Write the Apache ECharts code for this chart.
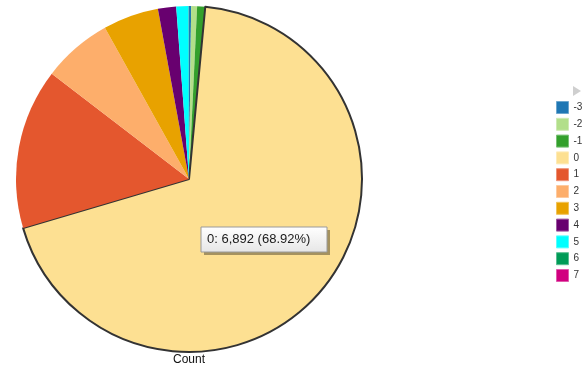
<!DOCTYPE html>
<html>
<head>
<meta charset="utf-8">
<script src="https://cdn.jsdelivr.net/npm/echarts@6/dist/echarts.min.js"></script>
<style>
html,body{margin:0;padding:0;background:#fff;}
#c{width:584px;height:378px;}
</style>
</head>
<body>
<div id="c"></div>
<script>
const categories = ['-3','-2','-1','0','1','2','3','4','5','6','7'];
const counts = [20, 55, 75, 6892, 1500, 650, 520, 170, 115, 2, 1];
const colors = ['#1f77b4','#b2df8a','#33a02c','#fde092','#e4572e','#fdae6b','#e8a200','#68006f','#00ffff','#009b57','#d1007f'];
const axisTitle = 'Count';
const highlighted = '0';

const total = counts.reduce((a,b)=>a+b,0);
const hi = categories.indexOf(highlighted);
const tipText = categories[hi] + ': ' + counts[hi].toLocaleString('en-US') + ' (' + (counts[hi]/total*100).toFixed(2) + '%)';
const FONT = 'Liberation Sans, Arial, sans-serif';

function lighten(hex, t){
  const n = parseInt(hex.slice(1),16);
  const r=(n>>16)&255, g=(n>>8)&255, b=n&255;
  const f=v=>Math.round(v+(255-v)*t);
  return 'rgb('+f(r)+','+f(g)+','+f(b)+')';
}

const data = categories.map((c,i)=>({
  name: c,
  value: counts[i],
  itemStyle: i===hi ? {color: colors[i], borderColor:'#333', borderWidth:2} : {color: colors[i]}
}));

const legendData = categories.map((c,i)=>({
  name: c,
  itemStyle: {color: colors[i], borderColor: lighten(colors[i], 0.35), borderWidth: 1}
}));

const chart = echarts.init(document.getElementById('c'), null, {renderer:'canvas'});
chart.setOption({
  animation:false,
  backgroundColor:'#fff',
  textStyle:{fontFamily:FONT},
  legend:{
    orient:'vertical', left:556, top:101, padding:0,
    icon:'rect', itemWidth:12, itemHeight:12, itemGap:3.8,
    textStyle:{fontSize:10, color:'#333', fontFamily:FONT},
    data: legendData
  },
  series:[{
    type:'pie',
    center:[189,179],
    radius:[0,173],
    startAngle:90,
    clockwise:true,
    label:{show:false},
    labelLine:{show:false},
    emphasis:{disabled:true},
    itemStyle:{borderWidth:0},
    data:data
  }],
  graphic:[
    {type:'polygon', shape:{points:[[573,86],[573,96],[581,91]]}, style:{fill:'#cfcfcf'}},
    {type:'text', x:189, y:354, style:{text:axisTitle, fontSize:12, fill:'#111', fontFamily:FONT, align:'center', verticalAlign:'top'}},
    {type:'rect', shape:{x:204,y:230,width:126,height:25}, style:{fill:'rgba(0,0,0,0.35)'}, z:100},
    {type:'rect', shape:{x:201,y:227,width:126,height:25}, z:101,
      style:{stroke:'#9a9a9a', lineWidth:1,
        fill:{type:'linear', x:0, y:0, x2:0, y2:1, colorStops:[{offset:0,color:'#ffffff'},{offset:1,color:'#e6e6e6'}]}}},
    {type:'text', x:207, y:233, z:102, style:{text:tipText, fontSize:13, fill:'#1a1a1a', fontFamily:FONT, verticalAlign:'top'}}
  ]
});
</script>
</body>
</html>
